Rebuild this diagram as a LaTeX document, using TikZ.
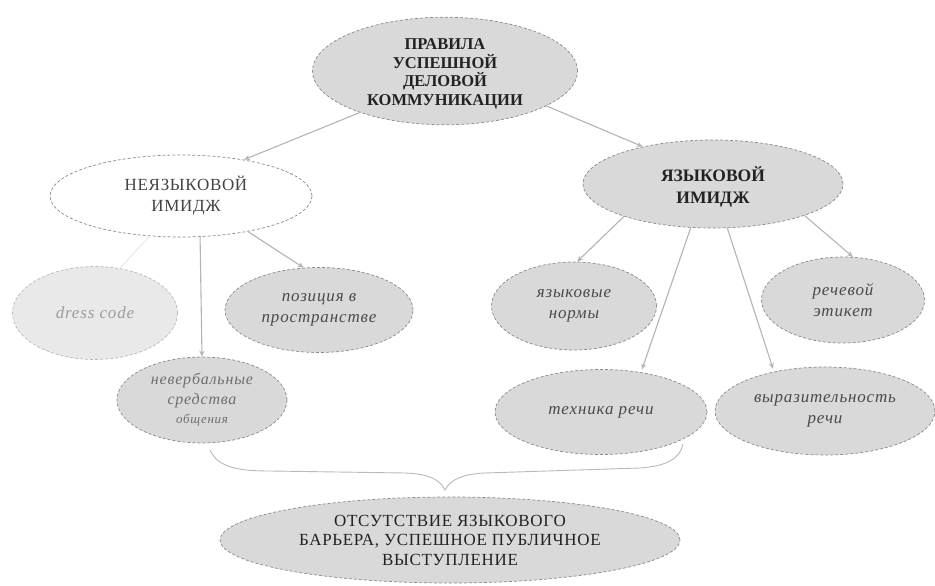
\documentclass[tikz,border=0pt]{standalone}
\usepackage{fontspec}
\setmainfont{Liberation Serif}
\usetikzlibrary{shapes.geometric,arrows.meta}
\definecolor{fillg}{HTML}{D9D9D9}
\definecolor{filll}{HTML}{E9E9E9}
\definecolor{edgeg}{HTML}{8A8A8A}
\definecolor{lineg}{HTML}{B4B4B4}
\definecolor{txtd}{HTML}{222222}
\definecolor{txti}{HTML}{4A4A4A}
\newfontfamily\capsfont[LetterSpace=4]{Liberation Serif}
\newfontfamily\itfont[LetterSpace=5]{Liberation Serif Italic}
\tikzset{
  oval/.style={ellipse, draw=edgeg, densely dashed, line width=0.7pt, fill=fillg, inner sep=0pt, align=center},
  capsbold/.style={font=\fontsize{16.5}{18.5}\selectfont\bfseries, text=txtd},
  capsreg/.style={font=\capsfont\fontsize{17}{19.5}\selectfont, text=txtd},
  itx/.style={font=\itfont\fontsize{17}{21}\selectfont, text=txti},
  conn/.style={draw=lineg, line width=1.1pt, -{Stealth[length=6pt,width=5pt]}},
  faint/.style={draw=gray!20, line width=0.8pt},
}
\begin{document}
\begin{tikzpicture}[x=1pt,y=-1pt]
\useasboundingbox (0,0) rectangle (935,586);
\fill[white] (0,0) rectangle (935,586);

\node[oval, capsbold, minimum width=265, minimum height=107] (top) at (445,71)
  {\rule{0pt}{17pt}ПРАВИЛА\\УСПЕШНОЙ\\ДЕЛОВОЙ\\КОММУНИКАЦИИ};
\node[oval, capsreg, fill=white, minimum width=262, minimum height=82, text=txtd!85,
  font=\capsfont\fontsize{17}{21}\selectfont] (nez) at (181,196)
  {\hspace*{10pt}НЕЯЗЫКОВОЙ\\\hspace*{10pt}ИМИДЖ};
\node[oval, capsbold, minimum width=260, minimum height=88, font=\fontsize{17.5}{22}\selectfont\bfseries] (yaz) at (713,184)
  {\rule{0pt}{20pt}ЯЗЫКОВОЙ\\ИМИДЖ};

\node[oval, itx, fill=filll, draw=edgeg!60, minimum width=165, minimum height=93, text=txti!55] (dress) at (95,313)
  {dress code};
\node[oval, itx, minimum width=188, minimum height=85] (poz) at (319,310)
  {позиция в\\пространстве};
\node[oval, itx, minimum width=170, minimum height=86, text=txti!80, font=\itfont\fontsize{16}{19.5}\selectfont] (nev) at (202,400)
  {невербальные\\средства\\{\fontsize{13}{15}\selectfont общения}};

\node[oval, itx, minimum width=165, minimum height=88] (norm) at (574,306)
  {языковые\\нормы};
\node[oval, itx, minimum width=163, minimum height=86] (etik) at (843,300)
  {речевой\\этикет};
\node[oval, itx, minimum width=212, minimum height=85] (tech) at (601,412)
  {техника речи};
\node[oval, itx, minimum width=220, minimum height=88] (vyr) at (825,411)
  {выразительность\\речи};

\node[oval, capsreg, minimum width=460, minimum height=86] (res) at (450,540)
  {ОТСУТСТВИЕ ЯЗЫКОВОГО\\БАРЬЕРА, УСПЕШНОЕ ПУБЛИЧНОЕ\\ВЫСТУПЛЕНИЕ};

% connectors
\draw[conn] (top.206) -- (nez.30);
\draw[conn] (top.-19) -- (yaz.152);
\draw[faint] (nez.-128) -- (dress.61);
\draw[conn] (nez.-65) -- (nev.north);
\draw[conn] (nez.-28) -- (poz.110);
\draw[conn] (yaz.-160) -- (norm.86);
\draw[conn] (yaz.-117) -- ([yshift=3pt]tech.44);
\draw[conn] (yaz.-72) -- ([yshift=3pt]vyr.143);
\draw[conn] (yaz.-19) -- (etik.77);

% brace
\draw[draw=gray!55, line width=0.9pt]
  (210,450) .. controls (218,468) and (240,471) .. (270,471)
  -- (405,473) .. controls (430,474) and (440,480) .. (445,490)
  .. controls (450,480) and (462,474) .. (485,473)
  -- (640,468) .. controls (668,466) and (680,458) .. (683,444);
\end{tikzpicture}
\end{document}
